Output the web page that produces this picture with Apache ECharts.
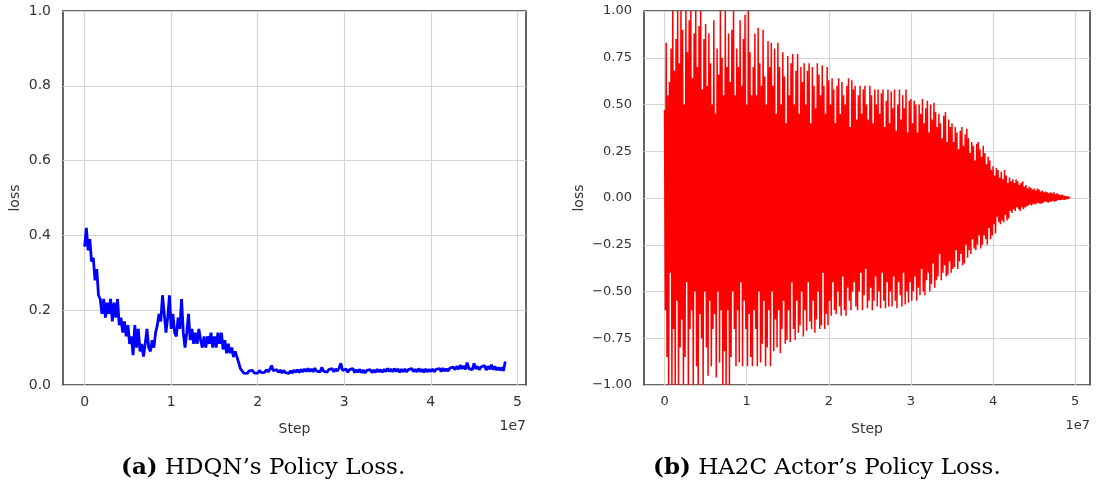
<!DOCTYPE html>
<html>
<head>
<meta charset="utf-8">
<script src="https://cdn.jsdelivr.net/npm/echarts@6/dist/echarts.min.js"></script>
<style>
html,body{margin:0;padding:0;background:#fff;}
#chart{width:1097px;height:492px;}
</style>
</head>
<body>
<div id="chart"></div>
<script>
// ---- Data (x in units of 1e7 steps) ----
const stepA = 0.02;   // logging interval of panel (a), ×1e7
const lossA = [
.37,.42,.36,.39,.33,.34,.28,.31,.24,.23,
.19,.23,.18,.22,.19,.23,.17,.22,.18,.23,
.16,.18,.14,.17,.13,.16,.11,.13,.08,.16,
.10,.15,.09,.11,.076,.11,.15,.10,.09,.12,
.10,.14,.16,.19,.17,.24,.19,.14,.18,.24,
.15,.19,.14,.13,.18,.15,.23,.14,.10,.14,
.19,.12,.15,.11,.14,.11,.15,.12,.10,.13,
.10,.13,.11,.14,.10,.13,.10,.14,.11,.14,
.095,.12,.085,.11,.085,.10,.075,.09,.075,.06,
.044,.038,.032,.037,.031,.038,.033,.039,.032,.037,
.032,.039,.033,.038,.034,.041,.035,.042,.052,.038,
.033,.041,.034,.040,.032,.039,.033,.038,.031,.038,
.032,.040,.034,.041,.033,.042,.035,.043,.036,.044,
.036,.043,.035,.045,.037,.042,.035,.047,.037,.042,
.034,.041,.036,.044,.035,.043,.037,.045,.058,.039,
.035,.043,.034,.041,.036,.044,.033,.041,.034,.042,
.033,.040,.032,.039,.034,.041,.033,.040,.034,.042,
.035,.041,.034,.042,.036,.044,.036,.043,.035,.044,
.036,.043,.034,.042,.035,.043,.035,.041,.036,.044,
.036,.042,.035,.044,.036,.042,.034,.043,.035,.042,
.036,.043,.035,.042,.037,.044,.036,.045,.037,.043,
.037,.045,.040,.048,.041,.050,.042,.053,.043,.051,
.042,.060,.044,.049,.041,.058,.043,.050,.041,.048,
.043,.052,.040,.050,.042,.054,.041,.050,.040,.047,
.039,.047,.038,.063
];

const stepB = 0.01;   // logging interval of panel (b), ×1e7
const lossB = [
.47,-.6,.83,-.85,.55,-1,.62,-.4,.8,-1,
1,-.7,.68,-1,.85,-.55,1,-1,.72,-.8,
1,-.65,.9,-1,.5,-.85,1,-.45,.78,-1,
.95,-.7,1,-.6,.64,-1,.88,-.5,1,-.9,
.7,-1,.92,-.62,1,-.75,.58,-1,.85,-.5,
.93,-.8,.6,-.95,.88,-.55,.72,-.9,.5,-.7,
.95,-.62,.45,-.96,.8,-.5,.66,-.88,1,-.6,
.75,-1,.55,-.82,1,-1,.7,-.6,.88,-1,
.62,-.85,.9,-.5,1,-.7,.55,-.9,.8,-.6,
.7,-.88,.95,-.45,.6,-.9,.85,-.55,.98,-.7,
.5,-.9,1,-.62,.78,-.85,.55,-.9,.7,-.6,
.88,-.7,.55,-.9,.91,-.5,.72,-.88,.6,-.78,
.9,-.55,.65,-.9,.5,-.8,.84,-.6,.7,-.9,
.83,-.5,.6,-.82,.8,-.65,.45,-.8,.83,-.6,
.7,-.83,.5,-.7,.78,-.55,.65,-.78,.4,-.76,
.76,-.6,.55,-.77,.72,-.45,.77,-.7,.5,-.76,
.68,-.55,.77,-.72,.45,-.68,.7,-.5,.62,-.74,
.72,-.6,.5,-.71,.68,-.45,.72,-.66,.4,-.7,
.7,-.55,.6,-.72,.48,-.65,.72,-.5,.66,-.7,
.55,-.68,.71,-.4,.6,-.7,.45,-.62,.7,-.68,
.63,-.55,.5,-.63,.64,-.45,.58,-.6,.4,-.62,
.6,-.5,.64,-.58,.45,-.63,.62,-.42,.55,-.6,
.5,-.63,.6,-.48,.64,-.55,.38,-.6,.63,-.5,
.58,-.45,.6,-.58,.42,-.6,.55,-.5,.6,-.4,
.45,-.6,.58,-.52,.6,-.38,.5,-.59,.42,-.55,
.6,-.48,.55,-.6,.4,-.55,.58,-.42,.5,-.58,
.58,-.5,.45,-.59,.56,-.4,.58,-.55,.38,-.59,
.52,-.45,.58,-.58,.4,-.5,.57,-.58,.48,-.42,
.58,-.55,.36,-.59,.5,-.45,.58,-.52,.42,-.58,
.55,-.4,.48,-.57,.58,-.5,.35,-.56,.52,-.45,
.53,-.55,.4,-.5,.52,-.42,.5,-.55,.35,-.48,
.5,-.52,.45,-.38,.53,-.5,.4,-.52,.48,-.44,
.52,-.4,.35,-.5,.5,-.46,.42,-.35,.51,-.48,
.46,-.44,.38,-.42,.45,-.3,.4,-.44,.32,-.4,
.44,-.36,.46,-.42,.3,-.41,.42,-.34,.38,-.4,
.4,-.38,.3,-.37,.38,-.28,.35,-.38,.26,-.34,
.36,-.3,.38,-.36,.28,-.35,.34,-.25,.37,-.32,
.32,-.28,.24,-.3,.3,-.22,.28,-.27,.2,-.28,
.29,-.25,.3,-.2,.26,-.27,.22,-.25,.28,-.2,
.24,-.22,.18,-.25,.22,-.16,.2,-.22,.15,-.2,
.17,-.14,.12,-.19,.16,-.1,.15,-.13,.11,-.14,
.14,-.12,.1,-.13,.15,-.09,.12,-.12,.08,-.11,
.11,-.07,.09,-.08,.1,-.06,.08,-.07,.1,-.05,
.09,-.06,.07,-.07,.08,-.05,.09,-.06,.06,-.05,
.07,-.045,.05,-.04,.06,-.035,.055,-.04,.045,-.03,
.05,-.035,.04,-.03,.05,-.025,.045,-.03,.035,-.03,
.04,-.025,.03,-.02,.035,-.02,.03,-.025,.025,-.02,
.03,-.02,.025,-.015,.03,-.02,.02,-.015,.025,-.01,
.02,-.012,.015,-.01,.018,-.008,.012,-.01,.01,-.006,
.008,-.005,.006,-.003,0
];

const xTicks = [0, 1, 2, 3, 4, 5];
const xLabel = 'Step';
const yLabel = 'loss';
const xOffsetText = '1e7';
const captionA = ['(a)', ' HDQN’s Policy Loss.'];
const captionB = ['(b)', ' HA2C Actor’s Policy Loss.'];

// ---- Chart ----
const seriesA = lossA.map((v, i) => [+(i * stepA).toFixed(4), v]);
const seriesB = lossB.map((v, i) => [+(i * stepB).toFixed(4), v]);

const TXT = '#333';
const GRIDC = '#d4d4d4';
const FONT = 'DejaVu Sans';
const fmtMinus = s => s.replace('-', '\u2212');

const G = [
  {left: 63, top: 11, width: 463, height: 374},
  {left: 644, top: 11, width: 446, height: 374}
];

function xAxis(idx, min, max, fs) {
  return {
    type: 'value', gridIndex: idx, min: min, max: max,
    name: xLabel, nameLocation: 'middle', nameGap: 37,
    nameTextStyle: {color: TXT, fontFamily: FONT, fontSize: 14},
    axisLine: {show: false}, axisTick: {show: false, customValues: xTicks},
    axisLabel: {customValues: xTicks, color: TXT, fontFamily: FONT, fontSize: fs, margin: 10,
                formatter: v => String(Math.round(v))},
    splitLine: {show: true, lineStyle: {color: GRIDC, width: 1.2}}
  };
}

const capRich = {b: {fontWeight: 'bold', fontFamily: 'DejaVu Serif', fontSize: 23, fill: '#000'}};

const option = {
  animation: false,
  backgroundColor: '#fff',
  grid: G.map(g => Object.assign({show: true, borderColor: '#333', borderWidth: 1.5,
                                   backgroundColor: 'transparent', containLabel: false}, g)),
  xAxis: [xAxis(0, -0.25, 5.1, 14), xAxis(1, -0.25, 5.18, 13)],
  yAxis: [
    {type: 'value', gridIndex: 0, min: 0, max: 1, interval: 0.2,
     name: yLabel, nameLocation: 'middle', nameGap: 41,
     nameTextStyle: {color: TXT, fontFamily: FONT, fontSize: 14},
     axisLine: {show: false}, axisTick: {show: false},
     axisLabel: {color: TXT, fontFamily: FONT, fontSize: 14, margin: 12, formatter: v => v.toFixed(1)},
     splitLine: {show: true, lineStyle: {color: GRIDC, width: 1.2}}},
    {type: 'value', gridIndex: 1, min: -1, max: 1, interval: 0.25,
     name: yLabel, nameLocation: 'middle', nameGap: 58,
     nameTextStyle: {color: TXT, fontFamily: FONT, fontSize: 14},
     axisLine: {show: false}, axisTick: {show: false},
     axisLabel: {color: TXT, fontFamily: FONT, fontSize: 13, margin: 12, formatter: v => fmtMinus(v.toFixed(2))},
     splitLine: {show: true, lineStyle: {color: GRIDC, width: 1.2}}}
  ],
  series: [
    {type: 'line', xAxisIndex: 0, yAxisIndex: 0, data: seriesA, showSymbol: false, symbol: 'none',
     lineStyle: {color: '#0000ff', width: 2.8}, z: 3},
    {type: 'line', xAxisIndex: 1, yAxisIndex: 1, data: seriesB, showSymbol: false, symbol: 'none',
     lineStyle: {color: '#ff0000', width: 1.5}, z: 3, clip: true}
  ],
  graphic: [
    {type: 'text', right: 1097 - 526, top: 419, style: {text: xOffsetText, fill: TXT, font: '14px "DejaVu Sans"'}},
    {type: 'text', right: 1097 - 1090, top: 419, style: {text: xOffsetText, fill: TXT, font: '13px "DejaVu Sans"'}},
    {type: 'text', left: 121, top: 457, style: {
      text: '{b|' + captionA[0] + '}' + captionA[1], fill: '#000',
      font: '23px "DejaVu Serif"', rich: capRich}},
    {type: 'text', left: 653, top: 457, style: {
      text: '{b|' + captionB[0] + '}' + captionB[1], fill: '#000',
      font: '23px "DejaVu Serif"', rich: capRich}}
  ]
};

const chart = echarts.init(document.getElementById('chart'), null, {renderer: 'canvas'});
chart.setOption(option);
</script>
</body>
</html>
